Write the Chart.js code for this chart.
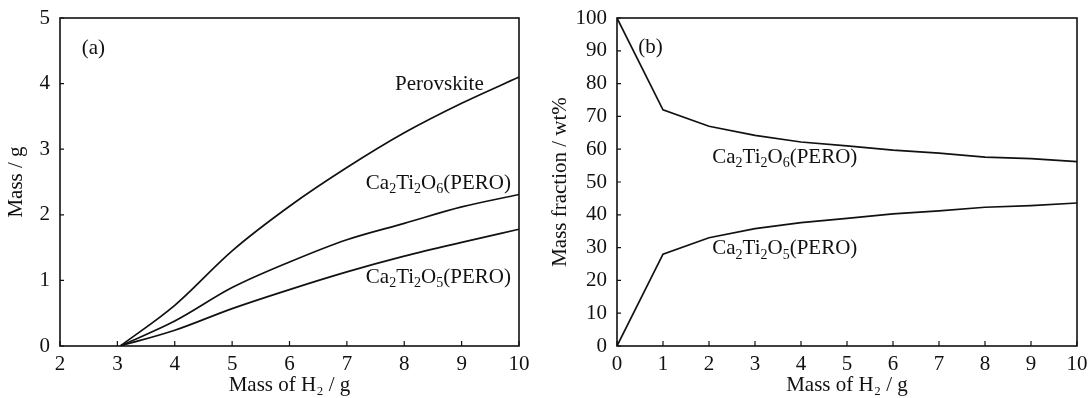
<!DOCTYPE html>
<html>
<head>
<meta charset="utf-8">
<script src="https://cdn.jsdelivr.net/npm/chart.js@4"></script>
<style>
  body { margin: 0; background: #fff; }
  .wrap { position: absolute; top: 0; width: 544px; height: 398px; }
</style>
</head>
<body>
<div class="wrap" style="left:0"><canvas id="chartA" width="544" height="398"></canvas></div>
<div class="wrap" style="left:544px"><canvas id="chartB" width="544" height="398"></canvas></div>
<script>
// ---- data (a): mass vs H2 ----
const h2A = [3.05, 4, 5, 6, 7, 8, 9, 10];
const perovskite = [0, 0.62, 1.45, 2.13, 2.72, 3.25, 3.70, 4.10];
const ca2ti2o6A = [0, 0.38, 0.89, 1.28, 1.62, 1.87, 2.12, 2.31];
const ca2ti2o5A = [0, 0.24, 0.57, 0.86, 1.13, 1.37, 1.58, 1.78];

// ---- data (b): mass fraction vs H2 ----
const h2B = [0, 1, 2, 3, 4, 5, 6, 7, 8, 9, 10];
const ca2ti2o6B = [100, 72, 67, 64.2, 62.2, 61, 59.7, 58.8, 57.6, 57.1, 56.2];
const ca2ti2o5B = [0, 28, 33, 35.8, 37.6, 38.9, 40.3, 41.2, 42.3, 42.8, 43.6];

const xTicksA = [2, 3, 4, 5, 6, 7, 8, 9, 10];
const yTicksA = [0, 1, 2, 3, 4, 5];
const xTicksB = [0, 1, 2, 3, 4, 5, 6, 7, 8, 9, 10];
const yTicksB = [0, 10, 20, 30, 40, 50, 60, 70, 80, 90, 100];

Chart.defaults.font.family = "'Liberation Serif', 'Times New Roman', serif";
Chart.defaults.color = "#111";

const ca2Parts = d => [["Ca", 0], ["2", 1], ["Ti", 0], ["2", 1], ["O", 0], [d, 1], ["(PERO)", 0]];

const pts = (xs, ys) => xs.map((x, i) => ({ x: x, y: ys[i] }));

// frame, inward ticks and text labels
const framePlugin = {
  id: "frame",
  afterDraw(chart, args, opts) {
    const ctx = chart.ctx;
    const a = chart.chartArea;
    const xs = chart.scales.x, ys = chart.scales.y;
    ctx.save();
    ctx.strokeStyle = "#111";
    ctx.lineWidth = 1.6;
    ctx.strokeRect(a.left, a.top, a.right - a.left, a.bottom - a.top);
    ctx.lineWidth = 1.2;
    ctx.beginPath();
    xs.ticks.forEach(t => {
      const px = xs.getPixelForValue(t.value);
      ctx.moveTo(px, a.bottom);
      ctx.lineTo(px, a.bottom - 5);
    });
    ys.ticks.forEach(t => {
      const py = ys.getPixelForValue(t.value);
      ctx.moveTo(a.left, py);
      ctx.lineTo(a.left + 4, py);
    });
    ctx.stroke();

    ctx.fillStyle = "#111";
    ctx.textBaseline = "middle";
    (opts.labels || []).forEach(lb => {
      let px = xs.getPixelForValue(lb.x);
      const py = ys.getPixelForValue(lb.y);
      lb.parts.forEach(([txt, sub]) => {
        ctx.font = (sub ? 14 : 21) + "px 'Liberation Serif', serif";
        ctx.fillText(txt, px, sub ? py + 6 : py);
        px += ctx.measureText(txt).width;
      });
    });
    ctx.restore();
  }
};

function makeChart(id, datasets, cfg) {
  return new Chart(document.getElementById(id), {
    type: "line",
    data: { datasets: datasets },
    plugins: [framePlugin],
    options: {
      responsive: false,
      animation: false,
      layout: { padding: { top: 18, right: cfg.padRight, left: 0, bottom: 0 } },
      plugins: {
        legend: { display: false },
        tooltip: { enabled: false },
        frame: { labels: cfg.labels }
      },
      elements: { point: { radius: 0 } },
      scales: {
        x: {
          type: "linear",
          min: cfg.xTicks[0],
          max: cfg.xTicks[cfg.xTicks.length - 1],
          afterBuildTicks: s => { s.ticks = cfg.xTicks.map(v => ({ value: v })); },
          afterFit: s => { s.height = 52; s.paddingLeft = 0; s.paddingRight = 0; },
          grid: { display: false, drawTicks: false },
          border: { display: false },
          ticks: { padding: 6, font: { size: 21 }, color: "#111", maxRotation: 0 },
          title: { display: true, text: "Mass of H\u2082 / g", font: { size: 21 }, color: "#111", padding: { top: -4, bottom: 0 } }
        },
        y: {
          min: cfg.yTicks[0],
          max: cfg.yTicks[cfg.yTicks.length - 1],
          afterBuildTicks: s => { s.ticks = cfg.yTicks.map(v => ({ value: v })); },
          afterFit: s => { s.width = cfg.yWidth; s.paddingTop = 0; s.paddingBottom = 0; },
          grid: { display: false, drawTicks: false },
          border: { display: false },
          ticks: { padding: 10, font: { size: 21 }, color: "#111" },
          title: { display: true, text: cfg.yTitle, font: { size: 21 }, color: "#111", padding: { top: 4, bottom: 0 } }
        }
      }
    }
  });
}

const lineStyle = { borderColor: "#111", borderWidth: 1.7, fill: false };

makeChart("chartA", [
  Object.assign({ label: "Perovskite", data: pts(h2A, perovskite), cubicInterpolationMode: "monotone" }, lineStyle),
  Object.assign({ label: "Ca2Ti2O6(PERO)", data: pts(h2A, ca2ti2o6A), cubicInterpolationMode: "monotone" }, lineStyle),
  Object.assign({ label: "Ca2Ti2O5(PERO)", data: pts(h2A, ca2ti2o5A), cubicInterpolationMode: "monotone" }, lineStyle)
], {
  xTicks: xTicksA, yTicks: yTicksA, yWidth: 60, padRight: 25, yTitle: "Mass / g",
  labels: [
    { x: 2.38, y: 4.54, parts: [["(a)", 0]] },
    { x: 7.84, y: 3.98, parts: [["Perovskite", 0]] },
    { x: 7.33, y: 2.48, parts: ca2Parts("6") },
    { x: 7.33, y: 1.04, parts: ca2Parts("5") }
  ]
});

makeChart("chartB", [
  Object.assign({ label: "Ca2Ti2O6(PERO)", data: pts(h2B, ca2ti2o6B) }, lineStyle),
  Object.assign({ label: "Ca2Ti2O5(PERO)", data: pts(h2B, ca2ti2o5B) }, lineStyle)
], {
  xTicks: xTicksB, yTicks: yTicksB, yWidth: 73, padRight: 11, yTitle: "Mass fraction / wt%",
  labels: [
    { x: 0.46, y: 90.9, parts: [["(b)", 0]] },
    { x: 2.07, y: 57.6, parts: ca2Parts("6") },
    { x: 2.07, y: 29.6, parts: ca2Parts("5") }
  ]
});
</script>
</body>
</html>
